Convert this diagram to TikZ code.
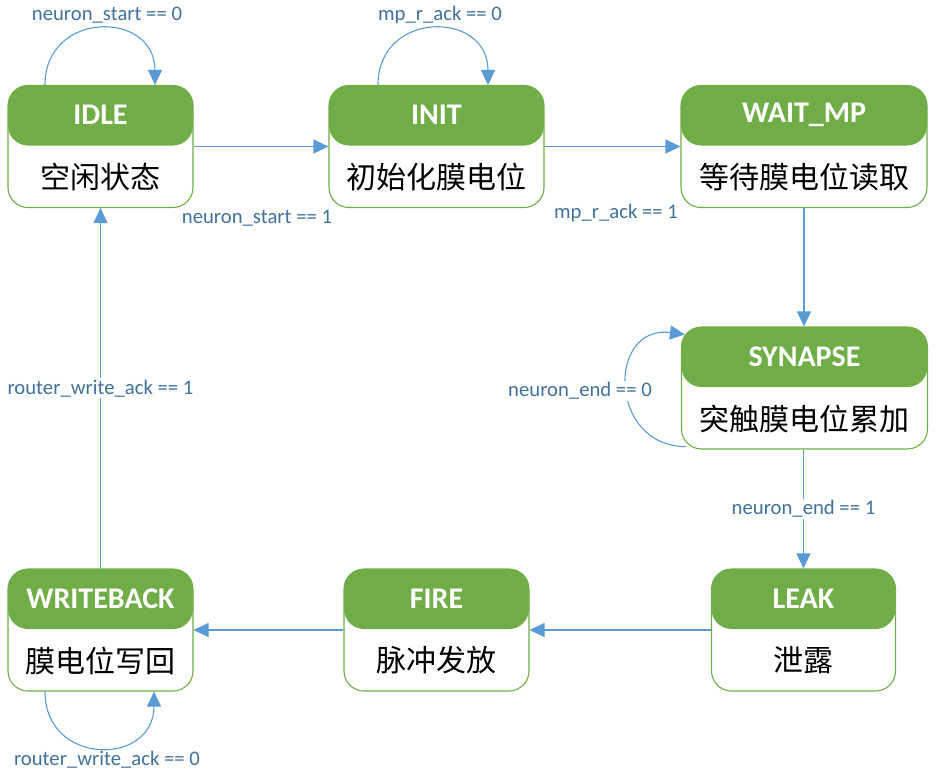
\documentclass[tikz,border=0pt]{standalone}
\usepackage{fontspec}
\setmainfont{Carlito}
\newfontfamily\cjk{Noto Sans CJK SC}
\usetikzlibrary{arrows.meta}
\definecolor{stgreen}{HTML}{70AD47}
\definecolor{arblue}{HTML}{5B9BD5}
\definecolor{lbblue}{HTML}{41719C}

\begin{document}
\begin{tikzpicture}[x=1pt, y=-1pt,
  state/.style={draw=stgreen, line width=1.1pt, rounded corners=20pt,
    minimum height=122pt, inner sep=0pt,
    path picture={\fill[stgreen] (path picture bounding box.north west)
      rectangle ([yshift=-60pt]path picture bounding box.north east);}},
  title/.style={text=white, font=\fontsize{30}{36}\selectfont\bfseries, inner sep=0pt},
  body/.style={font=\cjk\fontsize{30}{36}\selectfont, inner sep=0pt},
  cond/.style={text=lbblue, font=\fontsize{20.7}{24}\selectfont, inner sep=1.5pt},
  edge/.style={draw=arblue, line width=1.1pt, -{Triangle[length=15pt,width=14pt]}}]
\useasboundingbox (0,0) rectangle (937,772);

% states
\node[state, minimum width=185pt] (idle) at (100.5,146.5) {};
\node[state, minimum width=215pt] (init) at (436.5,146.5) {};
\node[state, minimum width=246pt] (wait) at (804,146.5) {};
\node[state, minimum width=246pt] (syn) at (804.5,388) {};
\node[state, minimum width=184pt] (leak) at (803.5,630) {};
\node[state, minimum width=185pt] (fire) at (436.5,630) {};
\node[state, minimum width=185pt] (wb) at (100.5,630) {};

\node[title] (idlet) at ([yshift=-30pt]idle.north) {IDLE};
\node[title] (initt) at ([yshift=-30pt]init.north) {INIT};
\node[title] (waitt) at ([yshift=-30pt]wait.north) {WAIT\_MP};
\node[title] (synt) at ([yshift=-30pt]syn.north) {SYNAPSE};
\node[title] (leakt) at ([yshift=-30pt]leak.north) {LEAK};
\node[title] (firet) at ([yshift=-30pt]fire.north) {FIRE};
\node[title] (wbt) at ([yshift=-30pt]wb.north) {WRITEBACK};

\node[body] (idleb) at ([yshift=31pt]idle.south) {空闲状态};
\node[body] (initb) at ([yshift=31pt]init.south) {初始化膜电位};
\node[body] (waitb) at ([yshift=31pt]wait.south) {等待膜电位读取};
\node[body] (synb) at ([yshift=31pt]syn.south) {突触膜电位累加};
\node[body] (leakb) at ([yshift=31pt]leak.south) {泄露};
\node[body] (fireb) at ([yshift=31pt]fire.south) {脉冲发放};
\node[body] (wbb) at ([yshift=31pt]wb.south) {膜电位写回};

% transitions
\draw[edge] (idle.east) -- (init.west);
\draw[edge] (init.east) -- (wait.west);
\draw[edge] (wait.south) -- (wait.south |- syn.north);
\draw[edge] (leak.north |- syn.south) -- (leak.north)
  node[cond, fill=white, midway] (c6) {neuron\_end == 1};
\draw[edge] (leak.west) -- (fire.east);
\draw[edge] (fire.west) -- (wb.east);
\draw[edge] (wb.north) -- (idle.south)
  node[cond, fill=white, midway] (c8) {router\_write\_ack == 1};

\node[cond] (c1) at (257,218) {neuron\_start == 1};
\node[cond] (c3) at (616,213) {mp\_r\_ack == 1};

% self loops
\draw[edge] ([xshift=-55.5pt]idle.north) .. controls +(0,-75) and +(0,-75) .. ([xshift=54.5pt]idle.north);
\node[cond] (c0) at (107,15) {neuron\_start == 0};
\draw[edge] ([xshift=-58.5pt]init.north) .. controls +(0,-75) and +(0,-75) .. ([xshift=51.5pt]init.north);
\node[cond] (c2) at (440,15) {mp\_r\_ack == 0};
\draw[edge] ([xshift=5pt,yshift=3pt]syn.south west) .. controls +(-78,0) and +(-78,-10) .. ([xshift=4pt,yshift=-8pt]syn.north west);
\node[cond, fill=white] (c5) at (580,391) {neuron\_end == 0};
\draw[edge] ([xshift=-55.5pt]wb.south) .. controls +(0,75) and +(0,75) .. ([xshift=53.5pt]wb.south);
\node[cond] (c7) at (107,760) {router\_write\_ack == 0};

\end{tikzpicture}
\end{document}
